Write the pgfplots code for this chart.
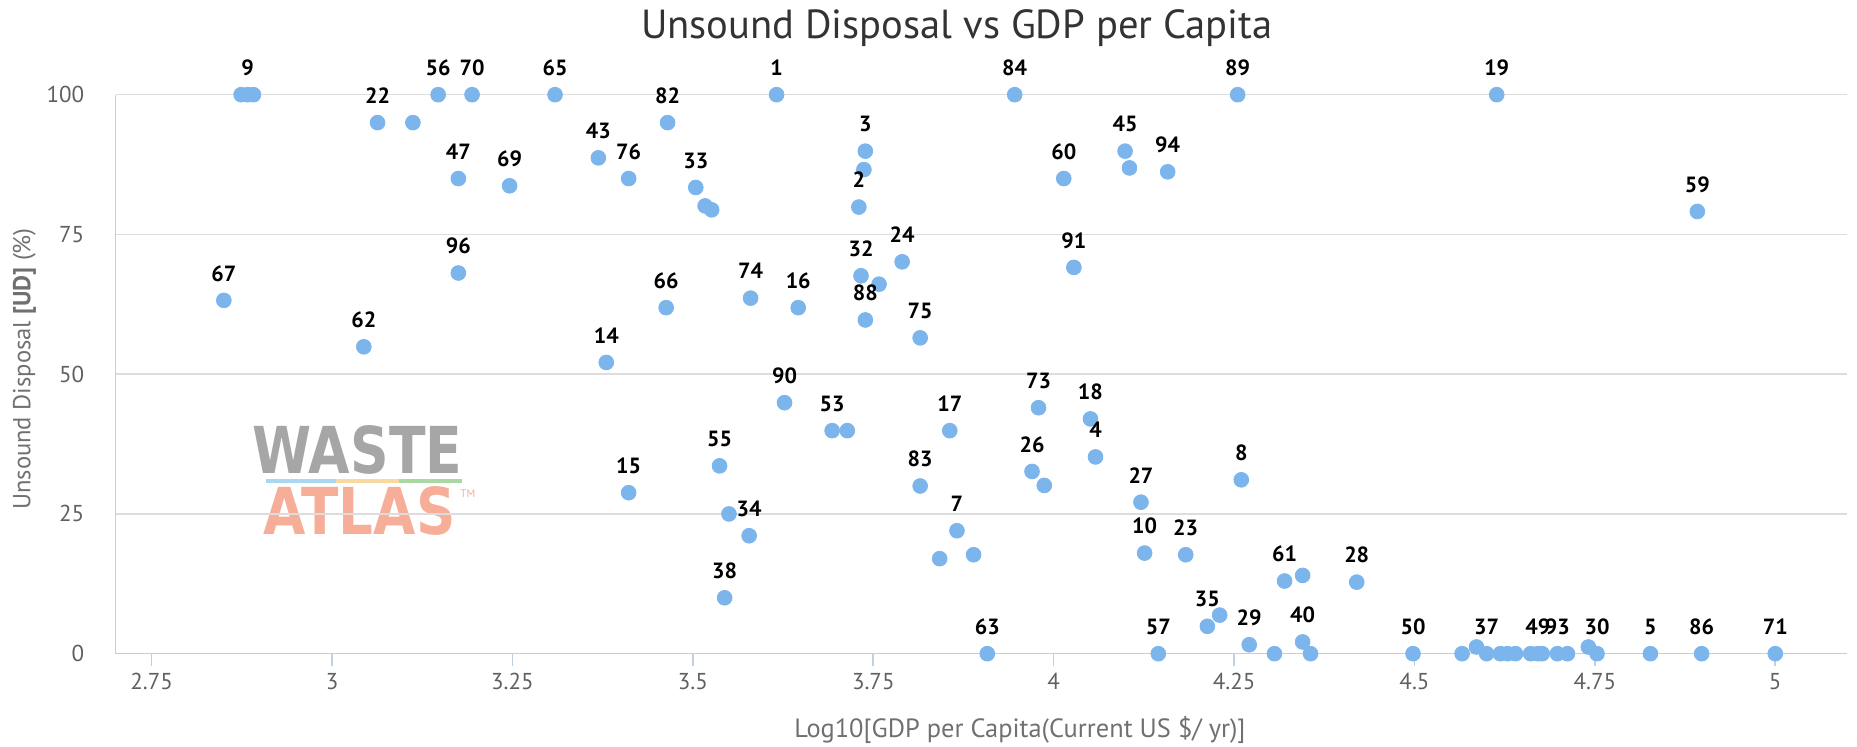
\documentclass[border=0pt]{standalone}
\usepackage{fontspec}
\setmainfont{PT Sans}
\newfontfamily\logofont{DejaVu Sans}
\usepackage{pgfplots}
\usepackage{pgfplotstable}
\pgfplotsset{compat=1.18}
\definecolor{ptc}{HTML}{7CB5EC}
\definecolor{gridc}{HTML}{DDDDDD}
\definecolor{axc}{HTML}{C0D0E0}
\definecolor{tickc}{HTML}{606060}
\definecolor{titlec}{HTML}{333333}
\definecolor{labc}{HTML}{707070}
\definecolor{logogray}{HTML}{A6A6A6}
\definecolor{logosalmon}{HTML}{F6AE98}
\definecolor{logoblue}{HTML}{A9D8F2}
\definecolor{logoyellow}{HTML}{F8D9A2}
\definecolor{logogreen}{HTML}{A9D9A3}

\pgfplotstableread{
x y lab
2.883 100 9
3.063 95 22
3.147 100 56
3.194 100 70
3.309 100 65
3.465 95 82
3.616 100 1
3.946 100 84
4.255 100 89
4.614 100 19
3.369 88.7 43
3.175 85.0 47
3.246 83.7 69
3.411 85.0 76
3.504 83.4 33
3.739 89.9 3
3.730 79.9 2
4.014 85.0 60
4.099 89.9 45
4.158 86.2 94
4.892 79.1 59
2.850 63.2 67
3.044 54.9 62
3.175 68.1 96
3.380 52.1 14
3.463 61.9 66
3.580 63.6 74
3.646 61.9 16
3.733 67.6 32
3.739 59.7 88
3.790 70.1 24
3.815 56.5 75
4.028 69.1 91
3.627 44.9 90
3.693 39.9 53
3.856 39.9 17
3.979 44.0 73
4.051 42.0 18
4.058 35.2 4
3.970 32.6 26
4.260 31.1 8
4.121 27.1 27
3.411 28.8 15
3.537 33.6 55
3.578 21.1 34
3.544 10.0 38
3.815 30.0 83
3.866 22.0 7
3.908 0 63
4.126 18.0 10
4.183 17.7 23
4.145 0 57
4.213 4.9 35
4.271 1.6 29
4.320 13.0 61
4.345 2.1 40
4.420 12.8 28
4.498 0 50
4.600 0 37
4.671 0 49
4.698 0 93
4.753 0 30
4.827 0 5
4.898 0 86
5.000 0 71
}\labeled

\pgfplotstableread{
x y
2.874 100
2.891 100
3.112 95
3.517 80.1
3.526 79.4
3.737 86.6
4.105 86.9
3.758 66.1
3.714 39.9
3.987 30.1
3.550 25.0
3.842 17.0
3.889 17.7
4.230 6.9
4.306 0
4.345 14.0
4.356 0
4.566 0
4.586 1.2
4.619 0
4.629 0
4.640 0
4.661 0
4.677 0
4.712 0
4.741 1.2
}\unlabeled

\begin{document}
\begin{tikzpicture}
\path[use as bounding box] (0,0) rectangle (928.5pt,373.5pt);
% watermark logo (behind the grid)
\node[anchor=north west, inner sep=0pt, text=logogray] at (125.9pt,161pt)
  {\resizebox{105pt}{24pt}{\logofont\bfseries WASTE}};
\draw[line width=2pt, logoblue] (132.9pt,133pt) -- (168pt,133pt);
\draw[line width=2pt, logoyellow] (168pt,133pt) -- (199.5pt,133pt);
\draw[line width=2pt, logogreen] (199.5pt,133pt) -- (231pt,133pt);
\node[anchor=north west, inner sep=0pt, text=logosalmon] at (131.5pt,130.5pt)
  {\resizebox{96pt}{24pt}{\logofont\bfseries ATLAS}};
\node[anchor=north west, inner sep=0pt, text=logosalmon, font=\fontsize{5.5}{6}\selectfont] at (230pt,129pt) {TM};
\begin{axis}[
  at={(57.8pt,46.65pt)}, anchor=south west,
  scale only axis, width=865.9pt, height=279.5pt,
  xmin=2.7, xmax=5.1, ymin=0, ymax=100,
  axis x line*=bottom, axis y line*=left,
  axis line style={axc, line width=0.8pt},
  ymajorgrids, grid style={gridc, line width=0.8pt},
  xtick={2.75,3,3.25,3.5,3.75,4,4.25,4.5,4.75,5},
  ytick={0,25,50,75,100},
  tick align=outside,
  major tick length=6pt,
  xtick style={axc, line width=0.8pt},
  ytick style={draw=none},
  /pgf/number format/assume math mode=true,
  ticklabel style={font=\fontsize{11.5}{13}\selectfont, text=tickc},
  xticklabel style={anchor=center, inner sep=0pt, yshift=-8pt},
  yticklabel style={anchor=east, inner sep=0pt, xshift=-9.5pt},
  clip=false,
  title={Unsound Disposal vs GDP per Capita},
  title style={at={(rel axis cs:0.4858,1.0979)}, anchor=center, inner sep=0pt,
    font=\fontsize{20.3}{22}\selectfont, text=titlec},
  xlabel={Log10[GDP per Capita(Current US \$/ yr)]},
  xlabel style={at={(rel axis cs:0.5222,-0.1356)}, anchor=center, inner sep=0pt,
    font=\fontsize{13.2}{15}\selectfont, text=labc},
  ylabel={Unsound Disposal \textbf{[UD]} (\%)},
  ylabel style={at={(rel axis cs:-0.0526,0.5093)}, anchor=center, inner sep=0pt,
    font=\fontsize{12.3}{14}\selectfont, text=labc},
]
\addplot[ptc, only marks, mark=*, mark size=3.7pt, mark options={draw=ptc, fill=ptc}]
  table[x=x, y=y] {\unlabeled};
\addplot[ptc, only marks, mark=*, mark size=3.7pt, mark options={draw=ptc, fill=ptc},
  nodes near coords, point meta=explicit symbolic,
  nodes near coords align={anchor=center},
  every node near coord/.append style={font=\bfseries\fontsize{11}{13}\selectfont,
    text=black, yshift=13.5pt, inner sep=0pt, anchor=center}]
  table[x=x, y=y, meta=lab] {\labeled};
\end{axis}
\end{tikzpicture}
\end{document}
